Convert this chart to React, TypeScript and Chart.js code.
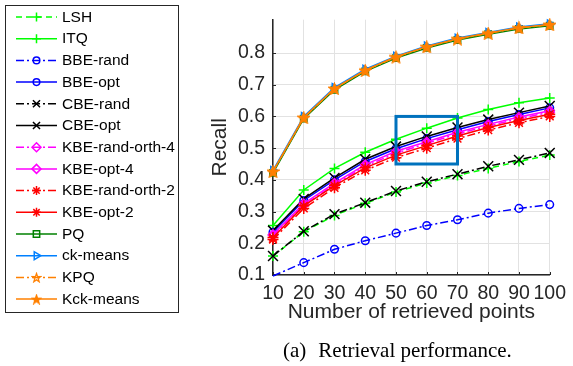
import React, { useEffect, useRef } from 'react';
import { Chart, registerables } from 'chart.js';
import { drawPoint } from 'chart.js/helpers';

Chart.register(...registerables);

// ---------- data ----------
const xValues = [10, 20, 30, 40, 50, 60, 70, 80, 90, 100];
const xTicks = [10, 20, 30, 40, 50, 60, 70, 80, 90, 100];
const yTicks = [0.1, 0.2, 0.3, 0.4, 0.5, 0.6, 0.7, 0.8];
const yRange = [0.1, 0.905];

const lsh = [0.16, 0.236, 0.288, 0.326, 0.362, 0.39, 0.414, 0.436, 0.458, 0.478];
const itq = [0.256, 0.368, 0.436, 0.487, 0.528, 0.563, 0.595, 0.622, 0.643, 0.658];
const bbeRand = [0.097, 0.139, 0.181, 0.208, 0.232, 0.256, 0.274, 0.295, 0.31, 0.322];
const bbeOpt = [0.235, 0.335, 0.4, 0.458, 0.498, 0.53, 0.558, 0.584, 0.606, 0.627];
const cbeRand = [0.16, 0.238, 0.292, 0.328, 0.365, 0.394, 0.418, 0.443, 0.463, 0.485];
const cbeOpt = [0.24, 0.34, 0.406, 0.465, 0.505, 0.537, 0.565, 0.59, 0.612, 0.633];
const kbeRandOrth4 = [0.225, 0.32, 0.385, 0.443, 0.484, 0.515, 0.545, 0.57, 0.593, 0.613];
const kbeOpt4 = [0.228, 0.325, 0.39, 0.448, 0.49, 0.52, 0.55, 0.575, 0.598, 0.618];
const kbeRandOrth2 = [0.212, 0.31, 0.375, 0.43, 0.47, 0.5, 0.53, 0.557, 0.58, 0.6];
const kbeOpt2 = [0.218, 0.318, 0.382, 0.438, 0.478, 0.508, 0.538, 0.565, 0.587, 0.607];
const pq = [0.422, 0.593, 0.684, 0.742, 0.784, 0.816, 0.841, 0.859, 0.876, 0.886];
const ckMeans = [0.43, 0.6, 0.691, 0.749, 0.79, 0.822, 0.847, 0.865, 0.882, 0.892];
const kpq = [0.426, 0.596, 0.688, 0.745, 0.787, 0.819, 0.844, 0.862, 0.879, 0.889];
const kckMeans = [0.427, 0.597, 0.688, 0.746, 0.788, 0.82, 0.845, 0.863, 0.88, 0.89];

const zoomBoxX = [50, 70];
const zoomBoxY = [0.45, 0.6];

const xTitle = 'Number of retrieved points';
const yTitle = 'Recall';
const captionLabel = '(a)';
const captionText = 'Retrieval performance.';

// ---------- styles ----------
const DASHED = [6, 4];
const DASHDOT = [8, 3, 2, 3];
const SANS = '"Liberation Sans", Arial, Helvetica, sans-serif';
const SERIF = '"Liberation Serif", "Times New Roman", serif';

function makePentagram(size: number, color: string, filled: boolean) {
  const c = document.createElement('canvas');
  c.width = size;
  c.height = size;
  const ctx = c.getContext('2d')!;
  const cx = size / 2;
  const cy = size / 2 + size * 0.05;
  const R = size / 2 - 1;
  const r = R * 0.4;
  ctx.beginPath();
  for (let i = 0; i < 10; i++) {
    const a = -Math.PI / 2 + (i * Math.PI) / 5;
    const rad = i % 2 === 0 ? R : r;
    ctx.lineTo(cx + rad * Math.cos(a), cy + rad * Math.sin(a));
  }
  ctx.closePath();
  if (filled) {
    ctx.fillStyle = color;
    ctx.fill();
  }
  ctx.strokeStyle = color;
  ctx.lineWidth = 1.3;
  ctx.stroke();
  return c;
}

type Spec = {
  label: string;
  values: number[];
  color: string;
  dash: number[];
  style: any;
  radius: number;
  legendRadius: number;
  rotation?: number;
  legendStyle?: any;
};

function buildSpecs(): Spec[] {
  const orange = '#ff8000';
  return [
    { label: 'LSH', values: lsh, color: '#00ff00', dash: DASHED, style: 'cross', radius: 5, legendRadius: 4.5 },
    { label: 'ITQ', values: itq, color: '#00ff00', dash: [], style: 'cross', radius: 5, legendRadius: 4.5 },
    { label: 'BBE-rand', values: bbeRand, color: '#0000ff', dash: DASHDOT, style: 'circle', radius: 3.8, legendRadius: 3.3 },
    { label: 'BBE-opt', values: bbeOpt, color: '#0000ff', dash: [], style: 'circle', radius: 3.8, legendRadius: 3.3 },
    { label: 'CBE-rand', values: cbeRand, color: '#000000', dash: DASHDOT, style: 'crossRot', radius: 7, legendRadius: 5 },
    { label: 'CBE-opt', values: cbeOpt, color: '#000000', dash: [], style: 'crossRot', radius: 7, legendRadius: 5 },
    { label: 'KBE-rand-orth-4', values: kbeRandOrth4, color: '#ff00ff', dash: DASHDOT, style: 'rectRot', radius: 4.5, legendRadius: 4.5 },
    { label: 'KBE-opt-4', values: kbeOpt4, color: '#ff00ff', dash: [], style: 'rectRot', radius: 4.5, legendRadius: 4.5 },
    { label: 'KBE-rand-orth-2', values: kbeRandOrth2, color: '#ff0000', dash: DASHDOT, style: 'star', radius: 5.5, legendRadius: 4.5 },
    { label: 'KBE-opt-2', values: kbeOpt2, color: '#ff0000', dash: [], style: 'star', radius: 5.5, legendRadius: 4.5 },
    { label: 'PQ', values: pq, color: '#008000', dash: [], style: 'rect', radius: 4.5, legendRadius: 4.5 },
    { label: 'ck-means', values: ckMeans, color: '#0080ff', dash: [], style: 'triangle', rotation: 90, radius: 4.5, legendRadius: 4.5 },
    {
      label: 'KPQ', values: kpq, color: orange, dash: DASHDOT, style: makePentagram(13, orange, false), radius: 6, legendRadius: 5,
      legendStyle: makePentagram(11, orange, false),
    },
    {
      label: 'Kck-means', values: kckMeans, color: orange, dash: [], style: makePentagram(13, orange, true), radius: 6, legendRadius: 5,
      legendStyle: makePentagram(11, orange, true),
    },
  ];
}

const sideLegend = {
  id: 'sideLegend',
  afterDraw(chart: any) {
    const ctx = chart.ctx;
    ctx.save();
    ctx.fillStyle = '#ffffff';
    ctx.fillRect(5, 5, 174, 308);
    ctx.strokeStyle = '#262626';
    ctx.lineWidth = 1;
    ctx.strokeRect(5.5, 5.5, 173, 307);
    chart.data.datasets.forEach((ds: any, i: number) => {
      const y = 17 + i * 21.7;
      ctx.beginPath();
      ctx.setLineDash(ds.borderDash || []);
      ctx.strokeStyle = ds.borderColor;
      ctx.lineWidth = 1.5;
      ctx.moveTo(16, y);
      ctx.lineTo(57, y);
      ctx.stroke();
      ctx.setLineDash([]);
      ctx.fillStyle = ds.pointBackgroundColor;
      ctx.strokeStyle = ds.borderColor;
      ctx.lineWidth = 1.5;
      drawPoint(ctx, {
        pointStyle: ds.legendStyle ?? ds.pointStyle,
        radius: ds.legendRadius,
        rotation: ds.pointRotation || 0,
        borderWidth: 1.5,
      } as any, 36.5, y);
      ctx.fillStyle = '#000000';
      ctx.font = '15.5px ' + SANS;
      ctx.textBaseline = 'middle';
      ctx.textAlign = 'left';
      ctx.fillText(ds.label, 62, y + 0.5);
    });
    ctx.restore();
  },
};

const extras = {
  id: 'extras',
  beforeDatasetsDraw(chart: any) {
    const ctx = chart.ctx;
    const { x, y } = chart.scales;
    const area = chart.chartArea;
    ctx.save();
    ctx.strokeStyle = '#262626';
    ctx.lineWidth = 1;
    xTicks.forEach((v) => {
      const px = Math.round(x.getPixelForValue(v)) + 0.5;
      ctx.beginPath();
      ctx.moveTo(px, area.bottom);
      ctx.lineTo(px, area.bottom - 3);
      ctx.stroke();
    });
    yTicks.forEach((v) => {
      const py = Math.round(y.getPixelForValue(v)) + 0.5;
      ctx.beginPath();
      ctx.moveTo(area.left, py);
      ctx.lineTo(area.left + 3, py);
      ctx.stroke();
    });
    ctx.restore();
  },
  afterDatasetsDraw(chart: any) {
    const ctx = chart.ctx;
    const { x, y } = chart.scales;
    const x0 = x.getPixelForValue(zoomBoxX[0]);
    const x1 = x.getPixelForValue(zoomBoxX[1]);
    const y0 = y.getPixelForValue(zoomBoxY[1]);
    const y1 = y.getPixelForValue(zoomBoxY[0]);
    ctx.save();
    ctx.strokeStyle = '#0072bd';
    ctx.lineWidth = 3;
    ctx.strokeRect(x0, y0, x1 - x0, y1 - y0);
    ctx.restore();
  },
  afterDraw(chart: any) {
    const ctx = chart.ctx;
    ctx.save();
    ctx.fillStyle = '#000000';
    ctx.font = '21px ' + SERIF;
    ctx.textBaseline = 'alphabetic';
    ctx.textAlign = 'left';
    ctx.fillText(captionLabel, 283, 357);
    const w = ctx.measureText(captionLabel).width;
    ctx.fillText(captionText, 283 + w + 12, 357);
    ctx.restore();
  },
};

export default function App() {
  const ref = useRef<HTMLCanvasElement | null>(null);

  useEffect(() => {
    if (!ref.current) return;
    const specs = buildSpecs();
    const n = specs.length;
    const datasets = specs.map((s, i) => ({
      label: s.label,
      data: xValues.map((xv, j) => ({ x: xv, y: s.values[j] })),
      borderColor: s.color,
      backgroundColor: s.color,
      borderWidth: 1.5,
      borderDash: s.dash,
      pointStyle: s.style,
      pointRotation: s.rotation || 0,
      pointRadius: (c: any) => (c.raw && c.raw.y < yRange[0] ? 0 : s.radius),
      pointBorderWidth: 1.5,
      pointBorderColor: s.color,
      pointBackgroundColor: s.label === 'Kck-means' || s.label === 'KPQ' ? s.color : 'rgba(0,0,0,0)',
      legendRadius: s.legendRadius,
      legendStyle: s.legendStyle,
      tension: 0,
      fill: false,
      clip: false as any,
      order: n - 1 - i,
    }));

    const chart = new Chart(ref.current, {
      type: 'line',
      data: { datasets: datasets as any },
      options: {
        animation: false,
        responsive: false,
        devicePixelRatio: 1,
        layout: { padding: { left: 205, right: 19, top: 7, bottom: 40 } },
        plugins: { legend: { display: false }, tooltip: { enabled: false }, title: { display: false } },
        scales: {
          x: {
            type: 'linear',
            min: xTicks[0],
            max: xTicks[xTicks.length - 1],
            afterBuildTicks: (sc: any) => {
              sc.ticks = xTicks.map((v) => ({ value: v }));
            },
            afterFit: (sc: any) => {
              sc.height = 51;
            },
            ticks: {
              autoSkip: false,
              maxRotation: 0,
              minRotation: 0,
              padding: 7,
              color: '#262626',
              font: { family: SANS, size: 19.5 },
              callback: (v: any) => String(v),
            },
            grid: { color: '#e2e2e2', lineWidth: 1, drawTicks: false },
            border: { display: true, color: '#262626', width: 1.5 },
            title: {
              display: true,
              text: xTitle,
              color: '#262626',
              font: { family: SANS, size: 21 },
              padding: { top: 0, bottom: 1.5 },
            },
          },
          y: {
            type: 'linear',
            min: yRange[0],
            max: yRange[1],
            afterBuildTicks: (sc: any) => {
              sc.ticks = yTicks.map((v) => ({ value: v }));
            },
            afterFit: (sc: any) => {
              sc.width = 68;
            },
            ticks: {
              padding: 8,
              color: '#262626',
              font: { family: SANS, size: 19.5 },
              callback: (v: any) => Number(v).toFixed(1),
            },
            grid: { color: '#e2e2e2', lineWidth: 1, drawTicks: false },
            border: { display: true, color: '#262626', width: 1.5 },
            title: {
              display: true,
              text: yTitle,
              color: '#262626',
              font: { family: SANS, size: 21 },
              padding: { top: 2.5, bottom: 0 },
            },
          },
        },
      },
      plugins: [extras, sideLegend],
    });
    return () => chart.destroy();
  }, []);

  return (
    <div style={{ position: 'absolute', left: 0, top: 0, width: 573, height: 366, background: '#ffffff' }}>
      <canvas ref={ref} width={573} height={366} style={{ width: 573, height: 366, display: 'block' }} />
    </div>
  );
}
